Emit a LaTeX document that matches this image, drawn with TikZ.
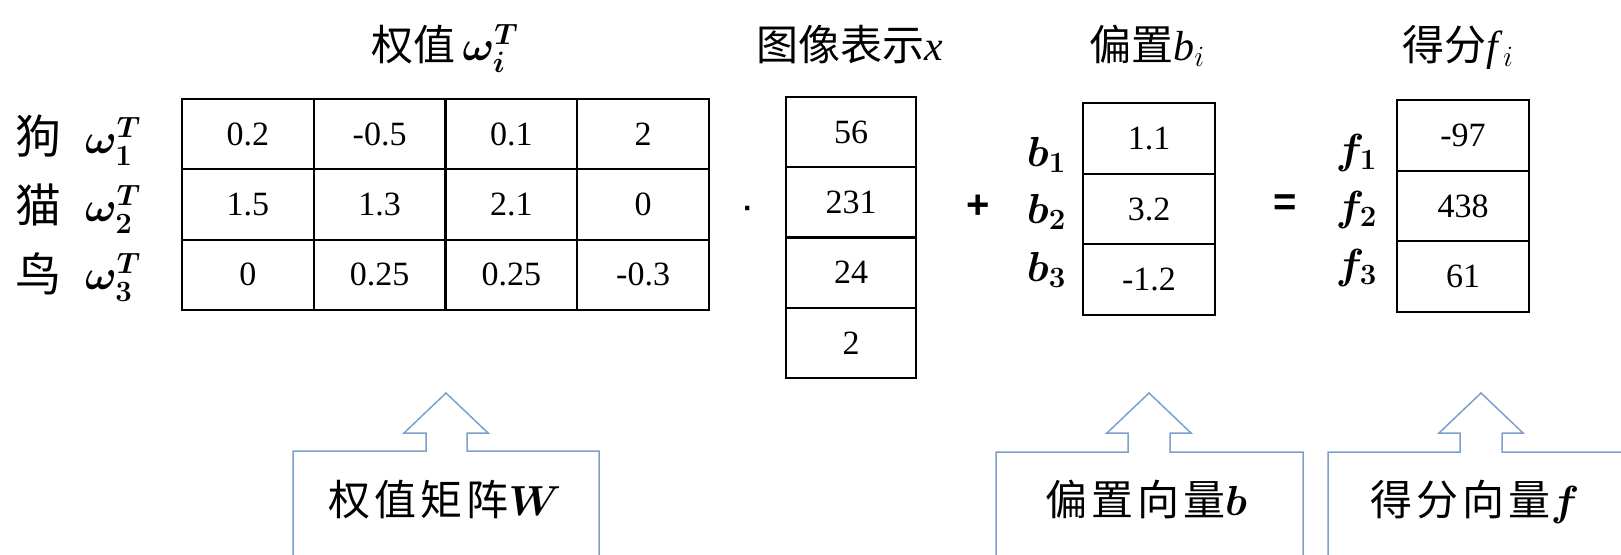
\RequirePackage{fix-cm}
\documentclass[tikz,border=0pt]{standalone}
\usepackage{fontspec}
\setmainfont{Liberation Serif}
\newfontfamily\cjk{Noto Sans CJK SC}
\newfontfamily\opfont{Liberation Sans}
\definecolor{callblue}{RGB}{125,160,205}
\begin{document}
\begin{tikzpicture}[x=1pt,y=-1pt,
  cell/.style={draw=black,line width=2pt,inner sep=0pt,font=\fontsize{34}{38}\selectfont},
  wcell/.style={cell,minimum width=131.75pt,minimum height=70.3pt},
  xcell/.style={cell,minimum width=130pt,minimum height=70.25pt},
  bcell/.style={cell,minimum width=132pt,minimum height=70.7pt},
  title/.style={inner sep=0pt,anchor=base,font=\fontsize{42}{46}\selectfont},
  rowlab/.style={inner sep=0pt,font=\fontsize{46}{50}\selectfont\cjk},
  mathlab/.style={inner sep=0pt,anchor=base,font=\fontsize{42}{46}\selectfont\boldmath},
  op/.style={inner sep=0pt,font=\fontsize{40}{44}\selectfont\opfont\bfseries},
  callout/.style={draw=callblue,line width=1.5pt,line join=miter},
  calltext/.style={inner sep=0pt,anchor=base,font=\fontsize{42}{46}\selectfont\boldmath}
]
\useasboundingbox (0,0) rectangle (1621,554);
% titles
\node[title] (tw) at (445,60) {{\cjk 权值}\,{\boldmath$\omega_i^T$}};
\node[title] (tx) at (850,60) {{\cjk 图像表示}\textit{x}};
\node[title] (tb) at (1147,60) {{\cjk 偏置}\textit{b}$_i$};
\node[title] (tf) at (1458,60) {{\cjk 得分}\textit{f}$_i$};
% W matrix
\node[wcell] (w11) at (247.9,134.2) {0.2};
\node[wcell] (w12) at (379.6,134.2) {-0.5};
\node[wcell] (w13) at (511.4,134.2) {0.1};
\node[wcell] (w14) at (643.1,134.2) {2};
\node[wcell] (w21) at (247.9,204.5) {1.5};
\node[wcell] (w22) at (379.6,204.5) {1.3};
\node[wcell] (w23) at (511.4,204.5) {2.1};
\node[wcell] (w24) at (643.1,204.5) {0};
\node[wcell] (w31) at (247.9,274.8) {0};
\node[wcell] (w32) at (379.6,274.8) {0.25};
\node[wcell] (w33) at (511.4,274.8) {0.25};
\node[wcell] (w34) at (643.1,274.8) {-0.3};
% row labels
\node[rowlab] (r1) at (39,136) {狗};
\node[rowlab] (r2) at (39,205) {猫};
\node[rowlab] (r3) at (39,274) {鸟};
\node[mathlab] (o1) at (113,153) {$\omega_1^T$};
\node[mathlab] (o2) at (113,221) {$\omega_2^T$};
\node[mathlab] (o3) at (113,289) {$\omega_3^T$};
% dot
\node[op,font=\fontsize{30}{34}\selectfont\opfont\bfseries] (dot) at (748,212) {·};
% x vector
\node[xcell] (x1) at (851,132.1) {56};
\node[xcell] (x2) at (851,202.4) {231};
\node[xcell] (x3) at (851,272.6) {24};
\node[xcell] (x4) at (851,342.9) {2};
% plus
\node[op] (plus) at (978,207) {+};
% b vector
\node[bcell] (b1) at (1149,138.4) {1.1};
\node[bcell] (b2) at (1149,209.1) {3.2};
\node[bcell] (b3) at (1149,279.8) {-1.2};
\node[mathlab,anchor=base east] (bl1) at (1066,166) {$b_1$};
\node[mathlab,anchor=base east] (bl2) at (1066,223) {$b_2$};
\node[mathlab,anchor=base east] (bl3) at (1066,281) {$b_3$};
% equals
\node[op] (eq) at (1285,205) {=};
% f vector
\node[bcell] (f1) at (1463,135.4) {-97};
\node[bcell] (f2) at (1463,206.1) {438};
\node[bcell] (f3) at (1463,276.8) {61};
\node[mathlab,anchor=base east] (fl1) at (1377,163) {$f_1$};
\node[mathlab,anchor=base east] (fl2) at (1377,220) {$f_2$};
\node[mathlab,anchor=base east] (fl3) at (1377,278) {$f_3$};
% callouts
\draw[callout] (293,556) |- (426,451) -- (426,433) -- (404,433) -- (446,393) -- (488,433) -- (467,433) -- (467,451) -| (599,556);
\node[calltext] (cw) at (445,515) {{\cjk 权\hspace{4pt}值\hspace{4pt}矩\hspace{4pt}阵}$W$};
\draw[callout] (996,556) |- (1128,452) -- (1128,433) -- (1107,433) -- (1149,393) -- (1191,433) -- (1170,433) -- (1170,452) -| (1303,556);
\node[calltext] (cb) at (1146,515) {{\cjk 偏\hspace{4pt}置\hspace{4pt}向\hspace{4pt}量}$b$};
\draw[callout] (1328,556) |- (1460,452) -- (1460,433) -- (1439,433) -- (1481,393) -- (1523,433) -- (1502,433) -- (1502,452) -- (1625,452);
\node[calltext] (cf) at (1475,515) {{\cjk 得\hspace{4pt}分\hspace{4pt}向\hspace{4pt}量}$f$};
\end{tikzpicture}
\end{document}
